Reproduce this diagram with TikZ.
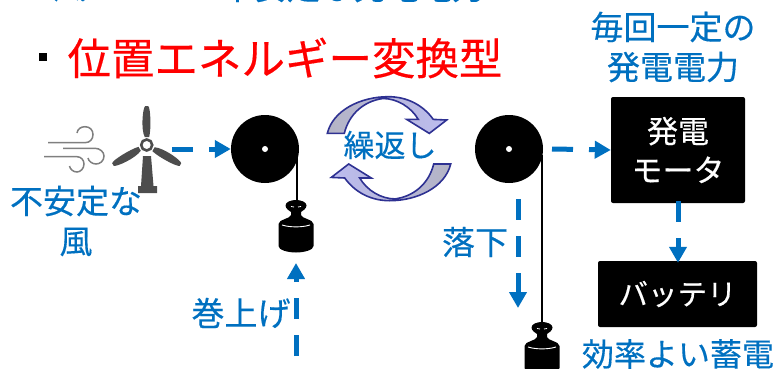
\documentclass[tikz,border=0pt]{standalone}
\usepackage{fontspec}
\setmainfont{Noto Sans CJK JP}[RawFeature={embolden=0.35}]
\usetikzlibrary{arrows.meta}
\definecolor{flowblue}{HTML}{0070C0}
\definecolor{turbgray}{HTML}{4D4D4D}
\definecolor{windgray}{HTML}{7F7F7F}
\definecolor{ribbon}{HTML}{2E3192}
\definecolor{ribgray}{HTML}{B4B4C4}
\definecolor{riblav}{HTML}{BCBCF0}
\tikzset{
  lab/.style={text=flowblue,inner sep=0pt,align=center,font=\fontsize{33}{40}\selectfont},
  storelab/.style={text=flowblue,inner sep=0pt,font=\fontsize{32}{40}\selectfont},
  smalllab/.style={text=flowblue,inner sep=0pt,font=\fontsize{31}{36}\selectfont},
  titletxt/.style={text=red,inner sep=0pt,font=\fontsize{43.5}{50}\selectfont},
  blackbox/.style={fill=black,rounded corners=2pt,inner sep=0pt,text=white,align=center,font=\fontsize{31}{39}\selectfont},
  battbox/.style={blackbox,font=\fontsize{29.5}{39}\selectfont},
  pulley/.style={circle,fill=black,minimum size=68pt,inner sep=0pt},
  flow/.style={draw=flowblue,line width=5pt,dash pattern=on 21pt off 16pt,-{Triangle[length=16pt,width=17pt]}},
  rope/.style={draw=black,line width=2pt},
  wind/.style={draw=windgray,line width=1.5pt},
  blade/.style={fill=turbgray},
  swirl/.style={draw=ribbon,line width=1.6pt,line join=miter},
  kenweight/.pic={
    \fill[black] (-10.5,5.5) .. controls (-10.5,2) and (-5,0) .. (0,0) .. controls (5,0) and (10.5,2) .. (10.5,5.5)
      .. controls (10.5,9) and (6,11) .. (5,12) -- (5,15) .. controls (6,19) and (17,19) .. (17.5,24)
      -- (17.5,46) .. controls (17.5,50) and (8,52.5) .. (0,52.5) .. controls (-8,52.5) and (-17.5,50) .. (-17.5,46)
      -- (-17.5,24) .. controls (-17,19) and (-6,19) .. (-5,15) -- (-5,12) .. controls (-6,11) and (-10.5,9) .. (-10.5,5.5) -- cycle;
    \draw[white,line width=0.9pt] (-14,25) .. controls (-6,27.5) and (6,27.5) .. (14,25);
    \draw[white,line width=0.8pt] (-5,6.5) -- (-2,7) (2,7) -- (5,6.5);
  }
}
\begin{document}
\begin{tikzpicture}[x=1pt,y=-1pt]
\useasboundingbox (0,0) rectangle (776,369);
\clip (0,0) rectangle (776,369);
% clipped top line
\node[lab] (topa) at (70,-13) {風};
\node[lab] (topb) at (353,-13) {不安定な発電電力};
% title
\node[draw=none,fill=black,minimum size=8pt,inner sep=0pt] (bullet) at (43,57) {};
\node[titletxt] (title) at (285,58) {位置エネルギー変換型};
% wind
\draw[wind] (48,142.7) -- (85,142.7) .. controls (90,142.7) and (93,139) .. (93,134.7)
  .. controls (93,130) and (90,126.7) .. (85,126.7) .. controls (81,126.7) and (77.5,129) .. (77,133);
\draw[wind] (63,148.3) -- (95,148.3) .. controls (100,148.3) and (104,152) .. (104,156)
  .. controls (104,161) and (100,164) .. (96,164) .. controls (92,164) and (88.5,161) .. (88,158);
\draw[wind] (44,156.7) -- (77,156.7) .. controls (81,156.7) and (84,160) .. (84,164)
  .. controls (84,168.5) and (80.5,172) .. (77,172) .. controls (73,172) and (70,169) .. (69.5,166);
% turbine
\fill[turbgray] (143,156) -- (151,156) -- (153.5,186) -- (157,186) -- (157,193) -- (138,193) -- (138,186) -- (141,186) -- cycle;
\foreach \a in {0,120,240}{
  \begin{scope}[shift={(146.7,145)},rotate=\a]
    \fill[blade] (-2,-8) .. controls (-6,-16) and (-4,-37) .. (-1.5,-39) .. controls (-0.5,-39.8) and (0.5,-39.8) .. (1.5,-39)
      .. controls (4,-37) and (4.5,-16) .. (2.5,-8) -- cycle;
  \end{scope}
}
\draw[turbgray,line width=2.6pt,fill=white] (146.7,145) circle[radius=5.5pt];
% pulleys
\node[pulley] (pulleyL) at (265,149) {};
\node[pulley] (pulleyR) at (509,149) {};
\fill[white] (pulleyL.center) circle[radius=3pt];
\fill[white] (pulleyR.center) circle[radius=3pt];
% weights and ropes
\coordinate (ropeLtop) at (297,155);
\coordinate (ropeLend) at (297,201);
\coordinate (ropeRtop) at (542,155);
\coordinate (ropeRend) at (542,323);
\draw[rope] (ropeLtop) -- (ropeLend);
\draw[rope] (ropeRtop) -- (ropeRend);
\pic at (296,200) {kenweight};
\pic at (542,322) {kenweight};
% boxes
\node[blackbox,minimum width=134pt,minimum height=106pt] (motor) at (678,150) {発電\\モータ};
\node[battbox,minimum width=159pt,minimum height=66pt] (battery) at (677.5,294) {バッテリ};
% swirl arrows
\path[swirl,left color=ribgray,right color=riblav]
  (327.3,133.4) .. controls (333,110) and (361,96.7) .. (388.3,96.7)
  .. controls (407,96.7) and (423,105) .. (433.3,119.4)
  -- (446.7,120) -- (429.3,133.4) -- (406.7,119.4) -- (418.3,119.4)
  .. controls (411,107) and (397,98.5) .. (383,98.5)
  .. controls (364,101) and (349,114) .. (344.3,133.4) -- cycle;
\path[swirl,left color=riblav,right color=ribgray]
  (450.7,164.0) .. controls (445,187.4) and (417,200.7) .. (389.7,200.7)
  .. controls (371,200.7) and (355,192.4) .. (344.7,178)
  -- (331.3,177.4) -- (348.7,164) -- (371.3,178) -- (359.7,178)
  .. controls (367,190.4) and (381,198.9) .. (395,198.9)
  .. controls (414,196.4) and (429,183.4) .. (433.7,164) -- cycle;
\node[smalllab] (repeat) at (390,145) {繰返し};
% connectors
\coordinate (fromTurbine) at (172,149);
\coordinate (fromPulley) at (552,149);
\coordinate (fallTop) at (518,199);
\coordinate (fallEnd) at (518,308);
\coordinate (liftBottom) at (296,356);
\coordinate (liftTop) at (296,263);
\draw[flow] (fromTurbine) -- (pulleyL.west);
\draw[flow] (fromPulley) -- (motor.west);
\draw[flow,shorten >=-2pt] ([yshift=2pt]motor.south) -- (motor.south |- battery.north);
\draw[flow] (fallTop) -- (fallEnd);
\draw[flow] (liftBottom) -- (liftTop);
% labels
\node[lab] (unstable) at (76,221) {不安定な\\風};
\node[lab] (constant) at (673,47) {毎回一定の\\発電電力};
\node[lab] (fall) at (475,242) {落下};
\node[lab] (lift) at (241,313) {巻上げ};
\node[storelab] (store) at (678,354) {効率よい蓄電};
\end{tikzpicture}
\end{document}
